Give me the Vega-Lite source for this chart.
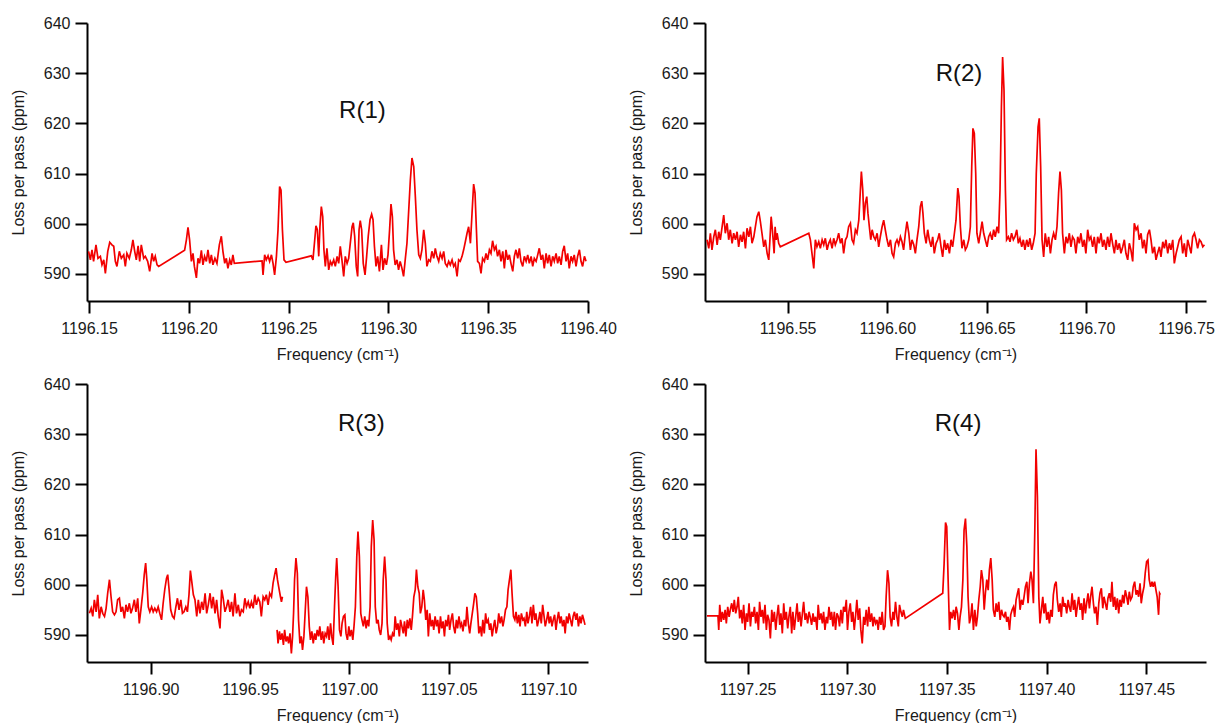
{
"$schema": "https://vega.github.io/schema/vega-lite/v6.json",
"padding": {"top": 15, "left": 10, "right": 0, "bottom": 0},
"bounds": "flush",
"columns": 2,
"spacing": {"row": 83, "column": 117},
"config": {
 "font": "Liberation Sans",
 "view": {"stroke": null},
 "axis": {"grid": false, "domainColor": "#000", "domainWidth": 2, "tickColor": "#000", "tickWidth": 2, "tickSize": 12, "labelFontSize": 16, "labelColor": "#1a1a1a", "titleFontSize": 16, "titleFontWeight": "normal", "titleColor": "#1a1a1a", "labelFlush": false, "labelOverlap": false},
 "axisX": {"labelPadding": 7, "titlePadding": 10},
 "axisY": {"labelPadding": 5, "titlePadding": 17}
},
"datasets": {
"r1": [
{"f":1196.1498,"v":594.5},{"f":1196.1507,"v":592.8},{"f":1196.1515,"v":594.8},{"f":1196.1523,"v":592.5},{"f":1196.1535,"v":595.8},{"f":1196.1545,"v":593.1},{"f":1196.1557,"v":593.5},{"f":1196.1565,"v":591.8},{"f":1196.1574,"v":592.8},{"f":1196.1582,"v":590.1},{"f":1196.1594,"v":594.5},{"f":1196.1604,"v":596.3},{"f":1196.1615,"v":595.8},{"f":1196.1624,"v":595.5},{"f":1196.1632,"v":592.5},{"f":1196.164,"v":591.5},{"f":1196.1652,"v":594.5},{"f":1196.1662,"v":593.1},{"f":1196.1674,"v":593.8},{"f":1196.1682,"v":591.5},{"f":1196.169,"v":594.1},{"f":1196.1702,"v":593.1},{"f":1196.1712,"v":594.8},{"f":1196.172,"v":596.8},{"f":1196.1729,"v":594.5},{"f":1196.1737,"v":592.8},{"f":1196.1746,"v":595.6},{"f":1196.1754,"v":592.5},{"f":1196.1762,"v":595.8},{"f":1196.1774,"v":593.1},{"f":1196.1782,"v":593.5},{"f":1196.1794,"v":592.5},{"f":1196.1804,"v":590.5},{"f":1196.1816,"v":594.1},{"f":1196.1824,"v":592.5},{"f":1196.1832,"v":593.5},{"f":1196.1841,"v":591.8},{"f":1196.1849,"v":591.5},
{"f":1196.1979,"v":594.7},{"f":1196.1988,"v":596.8},{"f":1196.1996,"v":599.3},{"f":1196.2004,"v":596.8},{"f":1196.2013,"v":592.5},{"f":1196.2021,"v":594.1},{"f":1196.2028,"v":591.5},{"f":1196.2038,"v":589.2},{"f":1196.2046,"v":593.1},{"f":1196.2054,"v":592.1},{"f":1196.2063,"v":594.7},{"f":1196.2071,"v":591.8},{"f":1196.2079,"v":593.5},{"f":1196.2088,"v":592.5},{"f":1196.2096,"v":594.8},{"f":1196.2105,"v":592.1},{"f":1196.2113,"v":593.8},{"f":1196.2121,"v":591.8},{"f":1196.2131,"v":593.1},{"f":1196.2141,"v":592.1},{"f":1196.2153,"v":595.8},{"f":1196.2163,"v":597.5},{"f":1196.2171,"v":594.5},{"f":1196.218,"v":592.1},{"f":1196.2188,"v":593.1},{"f":1196.2196,"v":591.1},{"f":1196.2205,"v":592.8},{"f":1196.2213,"v":591.8},{"f":1196.2221,"v":593.8},{"f":1196.2228,"v":592.1},
{"f":1196.2367,"v":592.6},{"f":1196.2372,"v":589.8},{"f":1196.238,"v":593.8},{"f":1196.2388,"v":592.8},{"f":1196.2397,"v":593.6},{"f":1196.2405,"v":592.5},{"f":1196.2414,"v":593.8},{"f":1196.2422,"v":592.1},{"f":1196.243,"v":589.8},{"f":1196.2439,"v":593.5},{"f":1196.2447,"v":598.8},{"f":1196.2455,"v":607.4},{"f":1196.2462,"v":606.7},{"f":1196.2469,"v":598.8},{"f":1196.2477,"v":592.8},{"f":1196.2487,"v":592.3},
{"f":1196.2614,"v":593.6},{"f":1196.2622,"v":592.8},{"f":1196.2631,"v":596.8},{"f":1196.2637,"v":599.6},{"f":1196.2644,"v":598.8},{"f":1196.2651,"v":593.5},{"f":1196.2657,"v":599.4},{"f":1196.2664,"v":603.4},{"f":1196.2671,"v":601.4},{"f":1196.2677,"v":594.8},{"f":1196.2684,"v":591.5},{"f":1196.2692,"v":595.1},{"f":1196.2701,"v":590.8},{"f":1196.2709,"v":592.5},{"f":1196.2717,"v":591.8},{"f":1196.2726,"v":592.8},{"f":1196.2734,"v":591.5},{"f":1196.2743,"v":593.5},{"f":1196.2751,"v":592.1},{"f":1196.2759,"v":595.5},{"f":1196.2768,"v":592.5},{"f":1196.2776,"v":589.5},{"f":1196.2784,"v":593.5},{"f":1196.2793,"v":592.1},{"f":1196.2801,"v":593.1},{"f":1196.2809,"v":596.1},{"f":1196.2818,"v":599.4},{"f":1196.2824,"v":600.2},{"f":1196.2831,"v":597.5},{"f":1196.2839,"v":591.5},{"f":1196.2846,"v":589.5},{"f":1196.2853,"v":598.8},{"f":1196.2859,"v":600.6},{"f":1196.2866,"v":598.8},{"f":1196.2874,"v":592.1},{"f":1196.2883,"v":589.8},{"f":1196.2891,"v":593.5},{"f":1196.2899,"v":597.5},{"f":1196.2908,"v":600.8},{"f":1196.2916,"v":601.9},{"f":1196.2923,"v":600.8},{"f":1196.293,"v":595.5},{"f":1196.2938,"v":591.5},{"f":1196.2946,"v":593.5},{"f":1196.2955,"v":590.5},{"f":1196.2965,"v":595.8},{"f":1196.2973,"v":590.8},{"f":1196.2981,"v":593.1},{"f":1196.299,"v":591.8},{"f":1196.2998,"v":593.8},{"f":1196.3006,"v":598.8},{"f":1196.3013,"v":603.9},{"f":1196.302,"v":601.4},{"f":1196.3026,"v":594.8},{"f":1196.3034,"v":591.8},{"f":1196.3043,"v":592.8},{"f":1196.3051,"v":590.8},{"f":1196.3059,"v":592.5},{"f":1196.3068,"v":591.1},{"f":1196.3076,"v":589.5},{"f":1196.3085,"v":593.1},{"f":1196.3093,"v":596.1},{"f":1196.3101,"v":602.1},{"f":1196.311,"v":608.7},{"f":1196.3118,"v":613.1},{"f":1196.3127,"v":611.4},{"f":1196.3135,"v":605.4},{"f":1196.3143,"v":598.8},{"f":1196.3152,"v":593.8},{"f":1196.316,"v":593.1},{"f":1196.3168,"v":594.8},{"f":1196.3177,"v":598.8},{"f":1196.3185,"v":596.1},{"f":1196.3193,"v":591.5},{"f":1196.3202,"v":592.8},{"f":1196.321,"v":592.5},{"f":1196.3218,"v":594.5},{"f":1196.3227,"v":593.1},{"f":1196.3235,"v":595.1},{"f":1196.3243,"v":593.5},{"f":1196.3252,"v":592.5},{"f":1196.326,"v":594.1},{"f":1196.3269,"v":593.1},{"f":1196.3277,"v":594.5},{"f":1196.3285,"v":592.1},{"f":1196.3294,"v":591.5},{"f":1196.3302,"v":592.5},{"f":1196.331,"v":591.8},{"f":1196.3319,"v":592.8},{"f":1196.3327,"v":591.5},{"f":1196.3335,"v":592.1},{"f":1196.3344,"v":589.5},{"f":1196.3352,"v":592.8},{"f":1196.336,"v":592.5},{"f":1196.3369,"v":593.5},{"f":1196.3377,"v":594.8},{"f":1196.3386,"v":596.5},{"f":1196.3394,"v":598.1},{"f":1196.3402,"v":599.4},{"f":1196.3411,"v":596.1},{"f":1196.3419,"v":602.1},{"f":1196.3427,"v":607.9},{"f":1196.3434,"v":606.1},{"f":1196.3441,"v":598.8},{"f":1196.3447,"v":592.5},{"f":1196.3456,"v":592.1},{"f":1196.3464,"v":590.1},{"f":1196.3472,"v":593.1},{"f":1196.3481,"v":592.5},{"f":1196.3489,"v":594.1},{"f":1196.3497,"v":592.8},{"f":1196.3506,"v":594.8},{"f":1196.3514,"v":594.1},{"f":1196.3522,"v":596.6},{"f":1196.3531,"v":594.8},{"f":1196.3539,"v":595.5},{"f":1196.3547,"v":593.5},{"f":1196.3556,"v":594.8},{"f":1196.3564,"v":592.5},{"f":1196.3573,"v":594.5},{"f":1196.3581,"v":591.1},{"f":1196.3589,"v":594.8},{"f":1196.3598,"v":592.8},{"f":1196.3606,"v":593.8},{"f":1196.3614,"v":592.1},{"f":1196.3623,"v":590.5},{"f":1196.3631,"v":593.5},{"f":1196.3639,"v":594.8},{"f":1196.3648,"v":593.1},{"f":1196.3656,"v":595.1},{"f":1196.3664,"v":592.5},{"f":1196.3673,"v":591.5},{"f":1196.3681,"v":593.5},{"f":1196.369,"v":592.5},{"f":1196.3698,"v":593.8},{"f":1196.3706,"v":592.1},{"f":1196.3715,"v":593.5},{"f":1196.3723,"v":591.5},{"f":1196.3731,"v":593.1},{"f":1196.374,"v":592.5},{"f":1196.3748,"v":593.8},{"f":1196.3756,"v":595.1},{"f":1196.3765,"v":592.8},{"f":1196.3773,"v":593.8},{"f":1196.3781,"v":591.1},{"f":1196.379,"v":594.1},{"f":1196.3798,"v":592.1},{"f":1196.3806,"v":593.8},{"f":1196.3815,"v":591.5},{"f":1196.3823,"v":593.5},{"f":1196.3831,"v":592.5},{"f":1196.384,"v":594.1},{"f":1196.3848,"v":592.1},{"f":1196.3856,"v":593.5},{"f":1196.3865,"v":591.8},{"f":1196.3873,"v":594.5},{"f":1196.3881,"v":595.6},{"f":1196.389,"v":592.5},{"f":1196.3898,"v":594.1},{"f":1196.3906,"v":591.1},{"f":1196.3915,"v":593.5},{"f":1196.3923,"v":592.5},{"f":1196.3931,"v":593.8},{"f":1196.394,"v":591.5},{"f":1196.3948,"v":593.5},{"f":1196.3957,"v":594.8},{"f":1196.3965,"v":592.5},{"f":1196.3973,"v":591.5},{"f":1196.3982,"v":593.5},{"f":1196.399,"v":592.5}
],
"r2": [
{"f":1196.5095,"v":596.8},{"f":1196.5104,"v":595.1},{"f":1196.5112,"v":598.1},{"f":1196.512,"v":594.8},{"f":1196.5129,"v":597.4},{"f":1196.5137,"v":598.8},{"f":1196.5146,"v":595.8},{"f":1196.5154,"v":598.4},{"f":1196.5162,"v":596.8},{"f":1196.5171,"v":599.4},{"f":1196.5179,"v":601.7},{"f":1196.5187,"v":598.1},{"f":1196.5196,"v":600.1},{"f":1196.5204,"v":596.8},{"f":1196.5212,"v":598.8},{"f":1196.5221,"v":596.1},{"f":1196.5229,"v":598.1},{"f":1196.5238,"v":596.8},{"f":1196.5246,"v":598.4},{"f":1196.5254,"v":595.4},{"f":1196.5263,"v":597.8},{"f":1196.5271,"v":596.4},{"f":1196.5279,"v":598.4},{"f":1196.5288,"v":595.1},{"f":1196.5296,"v":599.1},{"f":1196.5305,"v":597.4},{"f":1196.5313,"v":599.4},{"f":1196.5321,"v":596.1},{"f":1196.533,"v":597.4},{"f":1196.5338,"v":599.4},{"f":1196.5346,"v":601.4},{"f":1196.5355,"v":602.4},{"f":1196.5363,"v":600.4},{"f":1196.5371,"v":598.1},{"f":1196.538,"v":595.4},{"f":1196.5388,"v":596.8},{"f":1196.5397,"v":594.1},{"f":1196.5405,"v":592.8},{"f":1196.541,"v":596.1},{"f":1196.5417,"v":601.4},{"f":1196.5422,"v":599.4},{"f":1196.5427,"v":596.8},{"f":1196.5432,"v":594.1},{"f":1196.5437,"v":599.4},{"f":1196.5442,"v":596.8},{"f":1196.5447,"v":598.1},{"f":1196.5455,"v":596.1},{"f":1196.5463,"v":595.4},
{"f":1196.5606,"v":598.1},{"f":1196.5614,"v":596.8},{"f":1196.5622,"v":594.1},{"f":1196.5631,"v":591.1},{"f":1196.5639,"v":596.8},{"f":1196.5647,"v":595.4},{"f":1196.5656,"v":596.4},{"f":1196.5664,"v":595.1},{"f":1196.5673,"v":596.8},{"f":1196.5681,"v":595.8},{"f":1196.5689,"v":597.1},{"f":1196.5698,"v":594.8},{"f":1196.5706,"v":596.1},{"f":1196.5714,"v":596.8},{"f":1196.5723,"v":595.1},{"f":1196.5731,"v":597.1},{"f":1196.5739,"v":595.8},{"f":1196.5748,"v":596.8},{"f":1196.5756,"v":598.1},{"f":1196.5765,"v":596.1},{"f":1196.5773,"v":597.1},{"f":1196.5781,"v":594.1},{"f":1196.579,"v":596.8},{"f":1196.5798,"v":597.4},{"f":1196.5806,"v":599.4},{"f":1196.5815,"v":600.1},{"f":1196.5823,"v":596.8},{"f":1196.5831,"v":596.1},{"f":1196.584,"v":598.8},{"f":1196.5848,"v":598.1},{"f":1196.5857,"v":600.7},{"f":1196.5865,"v":606.7},{"f":1196.587,"v":610.4},{"f":1196.5877,"v":606.7},{"f":1196.5883,"v":600.7},{"f":1196.589,"v":604.1},{"f":1196.5897,"v":605.4},{"f":1196.5903,"v":602.1},{"f":1196.591,"v":599.4},{"f":1196.5917,"v":596.8},{"f":1196.5924,"v":598.8},{"f":1196.5932,"v":597.4},{"f":1196.594,"v":596.8},{"f":1196.5949,"v":598.1},{"f":1196.5957,"v":595.4},{"f":1196.5965,"v":597.4},{"f":1196.5974,"v":599.4},{"f":1196.5982,"v":600.7},{"f":1196.599,"v":598.8},{"f":1196.5999,"v":596.8},{"f":1196.6007,"v":595.4},{"f":1196.6016,"v":596.8},{"f":1196.6024,"v":594.1},{"f":1196.6032,"v":593.4},{"f":1196.6041,"v":596.1},{"f":1196.6049,"v":596.8},{"f":1196.6057,"v":595.8},{"f":1196.6066,"v":597.4},{"f":1196.6074,"v":596.4},{"f":1196.6082,"v":594.8},{"f":1196.6091,"v":598.1},{"f":1196.6099,"v":600.4},{"f":1196.6108,"v":598.1},{"f":1196.6116,"v":594.8},{"f":1196.6124,"v":596.8},{"f":1196.6133,"v":595.8},{"f":1196.6141,"v":594.1},{"f":1196.6149,"v":596.8},{"f":1196.6158,"v":599.4},{"f":1196.6166,"v":603.4},{"f":1196.6173,"v":604.5},{"f":1196.6179,"v":602.1},{"f":1196.6186,"v":598.1},{"f":1196.6195,"v":596.1},{"f":1196.6203,"v":598.8},{"f":1196.6211,"v":596.8},{"f":1196.622,"v":595.4},{"f":1196.6228,"v":597.4},{"f":1196.6236,"v":594.1},{"f":1196.6245,"v":596.1},{"f":1196.6253,"v":596.8},{"f":1196.6261,"v":598.1},{"f":1196.627,"v":595.4},{"f":1196.6278,"v":593.4},{"f":1196.6287,"v":596.8},{"f":1196.6295,"v":594.8},{"f":1196.6303,"v":596.1},{"f":1196.6312,"v":594.1},{"f":1196.632,"v":596.8},{"f":1196.6328,"v":595.4},{"f":1196.6337,"v":598.1},{"f":1196.6345,"v":600.7},{"f":1196.6354,"v":607.1},{"f":1196.636,"v":605.4},{"f":1196.6367,"v":599.4},{"f":1196.6375,"v":595.1},{"f":1196.6384,"v":596.8},{"f":1196.6392,"v":594.8},{"f":1196.64,"v":595.4},{"f":1196.6409,"v":596.8},{"f":1196.6417,"v":599.4},{"f":1196.6424,"v":611.4},{"f":1196.643,"v":619.0},{"f":1196.6437,"v":618.0},{"f":1196.6444,"v":610.0},{"f":1196.645,"v":598.1},{"f":1196.6459,"v":596.1},{"f":1196.6467,"v":598.1},{"f":1196.6476,"v":600.4},{"f":1196.6484,"v":598.1},{"f":1196.6492,"v":596.8},{"f":1196.6501,"v":595.4},{"f":1196.6509,"v":597.4},{"f":1196.6517,"v":598.1},{"f":1196.6526,"v":596.8},{"f":1196.6534,"v":598.8},{"f":1196.6542,"v":597.4},{"f":1196.6551,"v":599.4},{"f":1196.6559,"v":598.1},{"f":1196.6566,"v":606.7},{"f":1196.6573,"v":623.3},{"f":1196.6579,"v":633.2},{"f":1196.6586,"v":626.6},{"f":1196.6593,"v":606.7},{"f":1196.6599,"v":596.8},{"f":1196.6608,"v":597.4},{"f":1196.6616,"v":596.4},{"f":1196.6624,"v":598.1},{"f":1196.6633,"v":596.8},{"f":1196.6641,"v":597.4},{"f":1196.665,"v":598.8},{"f":1196.6658,"v":596.1},{"f":1196.6666,"v":597.1},{"f":1196.6675,"v":595.4},{"f":1196.6683,"v":596.8},{"f":1196.6691,"v":594.8},{"f":1196.67,"v":596.8},{"f":1196.6708,"v":595.4},{"f":1196.6716,"v":597.1},{"f":1196.6725,"v":594.8},{"f":1196.6733,"v":596.1},{"f":1196.6742,"v":598.1},{"f":1196.6748,"v":610.0},{"f":1196.6757,"v":619.3},{"f":1196.6763,"v":621.0},{"f":1196.677,"v":611.4},{"f":1196.6777,"v":596.8},{"f":1196.6785,"v":593.4},{"f":1196.6793,"v":598.1},{"f":1196.6802,"v":595.4},{"f":1196.681,"v":597.4},{"f":1196.6819,"v":594.1},{"f":1196.6827,"v":596.8},{"f":1196.6835,"v":598.1},{"f":1196.6844,"v":596.8},{"f":1196.6852,"v":599.4},{"f":1196.686,"v":606.1},{"f":1196.6867,"v":610.4},{"f":1196.6874,"v":606.7},{"f":1196.688,"v":598.1},{"f":1196.6889,"v":594.1},{"f":1196.6897,"v":597.4},{"f":1196.6905,"v":596.1},{"f":1196.6914,"v":598.1},{"f":1196.6922,"v":595.4},{"f":1196.693,"v":597.4},{"f":1196.6939,"v":596.8},{"f":1196.6947,"v":594.1},{"f":1196.6956,"v":597.4},{"f":1196.6964,"v":596.1},{"f":1196.6972,"v":598.1},{"f":1196.6981,"v":595.4},{"f":1196.6989,"v":596.8},{"f":1196.6997,"v":594.1},{"f":1196.7006,"v":598.8},{"f":1196.7014,"v":596.8},{"f":1196.7022,"v":597.4},{"f":1196.7031,"v":595.4},{"f":1196.7039,"v":597.4},{"f":1196.7048,"v":594.1},{"f":1196.7056,"v":597.4},{"f":1196.7064,"v":596.1},{"f":1196.7073,"v":598.1},{"f":1196.7081,"v":595.4},{"f":1196.7089,"v":596.8},{"f":1196.7098,"v":594.8},{"f":1196.7106,"v":597.4},{"f":1196.7115,"v":595.4},{"f":1196.7123,"v":598.1},{"f":1196.7131,"v":596.1},{"f":1196.714,"v":594.1},{"f":1196.7148,"v":596.8},{"f":1196.7156,"v":594.8},{"f":1196.7165,"v":596.1},{"f":1196.7173,"v":594.1},{"f":1196.7182,"v":595.4},{"f":1196.719,"v":596.8},{"f":1196.7198,"v":594.1},{"f":1196.7207,"v":592.8},{"f":1196.7215,"v":596.1},{"f":1196.7223,"v":594.8},{"f":1196.7232,"v":592.5},{"f":1196.724,"v":600.1},{"f":1196.7249,"v":598.8},{"f":1196.7257,"v":599.4},{"f":1196.7265,"v":596.8},{"f":1196.7274,"v":598.1},{"f":1196.7282,"v":595.1},{"f":1196.729,"v":596.8},{"f":1196.7299,"v":594.1},{"f":1196.7307,"v":597.8},{"f":1196.7316,"v":598.8},{"f":1196.7324,"v":596.8},{"f":1196.7332,"v":594.1},{"f":1196.7341,"v":595.4},{"f":1196.7349,"v":592.8},{"f":1196.7357,"v":594.1},{"f":1196.7366,"v":595.4},{"f":1196.7374,"v":593.4},{"f":1196.7383,"v":596.4},{"f":1196.7391,"v":595.1},{"f":1196.7399,"v":596.8},{"f":1196.7408,"v":594.1},{"f":1196.7416,"v":596.1},{"f":1196.7424,"v":594.8},{"f":1196.7433,"v":596.8},{"f":1196.7441,"v":592.1},{"f":1196.745,"v":594.1},{"f":1196.7458,"v":595.4},{"f":1196.7466,"v":596.8},{"f":1196.7475,"v":597.4},{"f":1196.7483,"v":594.1},{"f":1196.7491,"v":596.1},{"f":1196.75,"v":593.4},{"f":1196.7508,"v":596.8},{"f":1196.7517,"v":595.4},{"f":1196.7525,"v":594.1},{"f":1196.7533,"v":597.4},{"f":1196.7542,"v":598.1},{"f":1196.755,"v":596.8},{"f":1196.7558,"v":595.1},{"f":1196.7567,"v":596.8},{"f":1196.7575,"v":596.4},{"f":1196.7584,"v":595.4},{"f":1196.7592,"v":595.8}
],
"r3": [
{"s":1,"f":1196.8692,"v":594.3},{"s":1,"f":1196.8701,"v":595.3},{"s":1,"f":1196.8709,"v":593.7},{"s":1,"f":1196.8717,"v":597.0},{"s":1,"f":1196.8726,"v":594.6},{"s":1,"f":1196.8734,"v":598.0},{"s":1,"f":1196.8742,"v":593.3},{"s":1,"f":1196.8751,"v":595.6},{"s":1,"f":1196.8759,"v":594.3},{"s":1,"f":1196.8768,"v":593.7},{"s":1,"f":1196.8776,"v":595.3},{"s":1,"f":1196.8784,"v":598.3},{"s":1,"f":1196.8793,"v":601.0},{"s":1,"f":1196.8801,"v":597.6},{"s":1,"f":1196.8809,"v":594.6},{"s":1,"f":1196.8818,"v":594.0},{"s":1,"f":1196.8826,"v":594.6},{"s":1,"f":1196.8834,"v":597.0},{"s":1,"f":1196.8843,"v":597.3},{"s":1,"f":1196.8851,"v":594.6},{"s":1,"f":1196.8859,"v":595.6},{"s":1,"f":1196.8868,"v":593.3},{"s":1,"f":1196.8876,"v":596.0},{"s":1,"f":1196.8884,"v":594.6},{"s":1,"f":1196.8893,"v":596.3},{"s":1,"f":1196.8901,"v":594.3},{"s":1,"f":1196.8909,"v":595.3},{"s":1,"f":1196.8918,"v":597.0},{"s":1,"f":1196.8926,"v":594.6},{"s":1,"f":1196.8935,"v":597.3},{"s":1,"f":1196.8943,"v":592.3},{"s":1,"f":1196.8951,"v":595.0},{"s":1,"f":1196.896,"v":598.3},{"s":1,"f":1196.8968,"v":602.0},{"s":1,"f":1196.8975,"v":604.3},{"s":1,"f":1196.8981,"v":601.0},{"s":1,"f":1196.8988,"v":595.6},{"s":1,"f":1196.8996,"v":594.6},{"s":1,"f":1196.9005,"v":595.6},{"s":1,"f":1196.9013,"v":594.6},{"s":1,"f":1196.9021,"v":595.3},{"s":1,"f":1196.903,"v":594.6},{"s":1,"f":1196.9038,"v":595.6},{"s":1,"f":1196.9046,"v":594.3},{"s":1,"f":1196.9055,"v":593.0},{"s":1,"f":1196.9063,"v":596.3},{"s":1,"f":1196.9071,"v":599.0},{"s":1,"f":1196.908,"v":601.3},{"s":1,"f":1196.9086,"v":602.0},{"s":1,"f":1196.9093,"v":599.0},{"s":1,"f":1196.9101,"v":595.0},{"s":1,"f":1196.911,"v":593.7},{"s":1,"f":1196.9118,"v":593.3},{"s":1,"f":1196.9127,"v":595.6},{"s":1,"f":1196.9135,"v":597.3},{"s":1,"f":1196.9143,"v":595.0},{"s":1,"f":1196.9152,"v":597.0},{"s":1,"f":1196.916,"v":594.3},{"s":1,"f":1196.9168,"v":594.6},{"s":1,"f":1196.9177,"v":595.6},{"s":1,"f":1196.9185,"v":594.6},{"s":1,"f":1196.9193,"v":598.0},{"s":1,"f":1196.92,"v":602.8},{"s":1,"f":1196.9207,"v":600.6},{"s":1,"f":1196.9215,"v":598.0},{"s":1,"f":1196.9223,"v":597.0},{"s":1,"f":1196.9232,"v":593.7},{"s":1,"f":1196.924,"v":597.0},{"s":1,"f":1196.9248,"v":594.3},{"s":1,"f":1196.9257,"v":596.6},{"s":1,"f":1196.9265,"v":595.0},{"s":1,"f":1196.9274,"v":598.3},{"s":1,"f":1196.9282,"v":594.3},{"s":1,"f":1196.929,"v":596.0},{"s":1,"f":1196.9299,"v":598.3},{"s":1,"f":1196.9307,"v":595.3},{"s":1,"f":1196.9315,"v":597.6},{"s":1,"f":1196.9324,"v":594.3},{"s":1,"f":1196.9332,"v":597.0},{"s":1,"f":1196.934,"v":593.7},{"s":1,"f":1196.9349,"v":591.3},{"s":1,"f":1196.9357,"v":599.0},{"s":1,"f":1196.9365,"v":597.3},{"s":1,"f":1196.9374,"v":594.6},{"s":1,"f":1196.9382,"v":595.6},{"s":1,"f":1196.939,"v":597.0},{"s":1,"f":1196.9399,"v":594.6},{"s":1,"f":1196.9407,"v":596.6},{"s":1,"f":1196.9415,"v":593.7},{"s":1,"f":1196.9424,"v":598.3},{"s":1,"f":1196.9432,"v":594.3},{"s":1,"f":1196.9441,"v":596.0},{"s":1,"f":1196.9449,"v":593.7},{"s":1,"f":1196.9457,"v":595.0},{"s":1,"f":1196.9466,"v":594.6},{"s":1,"f":1196.9474,"v":597.3},{"s":1,"f":1196.9482,"v":595.6},{"s":1,"f":1196.9491,"v":596.6},{"s":1,"f":1196.9499,"v":595.3},{"s":1,"f":1196.9507,"v":596.6},{"s":1,"f":1196.9516,"v":595.3},{"s":1,"f":1196.9524,"v":598.0},{"s":1,"f":1196.9532,"v":596.0},{"s":1,"f":1196.9541,"v":597.3},{"s":1,"f":1196.9549,"v":596.6},{"s":1,"f":1196.9557,"v":593.7},{"s":1,"f":1196.9566,"v":597.6},{"s":1,"f":1196.9574,"v":597.0},{"s":1,"f":1196.9582,"v":598.0},{"s":1,"f":1196.9591,"v":596.0},{"s":1,"f":1196.9599,"v":598.3},{"s":1,"f":1196.9608,"v":597.6},{"s":1,"f":1196.9616,"v":600.3},{"s":1,"f":1196.9624,"v":602.0},{"s":1,"f":1196.9631,"v":603.3},{"s":1,"f":1196.9638,"v":601.0},{"s":1,"f":1196.9644,"v":599.6},{"s":1,"f":1196.9653,"v":597.6},{"s":1,"f":1196.9658,"v":596.6},{"s":1,"f":1196.9663,"v":597.6},
{"s":2,"f":1196.9636,"v":591.0},{"s":2,"f":1196.9641,"v":588.3},{"s":2,"f":1196.9648,"v":590.7},{"s":2,"f":1196.9654,"v":589.0},{"s":2,"f":1196.9661,"v":590.3},{"s":2,"f":1196.9668,"v":588.0},{"s":2,"f":1196.9674,"v":591.0},{"s":2,"f":1196.9681,"v":588.7},{"s":2,"f":1196.9688,"v":589.7},{"s":2,"f":1196.9694,"v":588.3},{"s":2,"f":1196.9701,"v":590.3},{"s":2,"f":1196.9708,"v":586.3},{"s":2,"f":1196.9714,"v":589.7},{"s":2,"f":1196.9719,"v":594.3},{"s":2,"f":1196.9724,"v":601.0},{"s":2,"f":1196.9731,"v":605.3},{"s":2,"f":1196.9738,"v":602.3},{"s":2,"f":1196.9744,"v":593.0},{"s":2,"f":1196.9751,"v":588.3},{"s":2,"f":1196.9758,"v":589.7},{"s":2,"f":1196.9764,"v":587.0},{"s":2,"f":1196.9771,"v":589.7},{"s":2,"f":1196.9778,"v":595.0},{"s":2,"f":1196.9784,"v":599.6},{"s":2,"f":1196.9791,"v":597.6},{"s":2,"f":1196.9798,"v":591.7},{"s":2,"f":1196.9804,"v":589.0},{"s":2,"f":1196.9811,"v":590.7},{"s":2,"f":1196.9818,"v":588.3},{"s":2,"f":1196.9825,"v":590.3},{"s":2,"f":1196.9831,"v":589.0},{"s":2,"f":1196.9838,"v":591.0},{"s":2,"f":1196.9845,"v":589.7},{"s":2,"f":1196.9851,"v":591.7},{"s":2,"f":1196.9858,"v":589.0},{"s":2,"f":1196.9865,"v":590.7},{"s":2,"f":1196.9871,"v":588.3},{"s":2,"f":1196.9878,"v":590.3},{"s":2,"f":1196.9885,"v":589.7},{"s":2,"f":1196.9891,"v":591.7},{"s":2,"f":1196.9898,"v":589.0},{"s":2,"f":1196.9905,"v":592.3},{"s":2,"f":1196.9911,"v":589.7},{"s":2,"f":1196.9918,"v":588.0},{"s":2,"f":1196.9925,"v":595.6},{"s":2,"f":1196.9931,"v":601.6},{"s":2,"f":1196.9936,"v":605.3},{"s":2,"f":1196.9943,"v":599.6},{"s":2,"f":1196.995,"v":591.0},{"s":2,"f":1196.9957,"v":589.7},{"s":2,"f":1196.9963,"v":592.3},{"s":2,"f":1196.997,"v":593.7},{"s":2,"f":1196.9977,"v":594.0},{"s":2,"f":1196.9983,"v":590.3},{"s":2,"f":1196.999,"v":589.0},{"s":2,"f":1196.9997,"v":591.7},{"s":2,"f":1197.0003,"v":589.7},{"s":2,"f":1197.001,"v":591.0},{"s":2,"f":1197.0017,"v":589.0},{"s":2,"f":1197.0023,"v":591.7},{"s":2,"f":1197.003,"v":595.6},{"s":2,"f":1197.0037,"v":605.6},{"s":2,"f":1197.0043,"v":610.6},{"s":2,"f":1197.005,"v":605.6},{"s":2,"f":1197.0057,"v":594.3},{"s":2,"f":1197.0063,"v":593.0},{"s":2,"f":1197.007,"v":591.7},{"s":2,"f":1197.0077,"v":593.7},{"s":2,"f":1197.0084,"v":591.3},{"s":2,"f":1197.009,"v":593.0},{"s":2,"f":1197.0097,"v":591.7},{"s":2,"f":1197.0104,"v":595.6},{"s":2,"f":1197.011,"v":607.6},{"s":2,"f":1197.0117,"v":612.9},{"s":2,"f":1197.0124,"v":608.9},{"s":2,"f":1197.013,"v":595.6},{"s":2,"f":1197.0137,"v":592.3},{"s":2,"f":1197.0144,"v":593.0},{"s":2,"f":1197.015,"v":591.0},{"s":2,"f":1197.0157,"v":590.0},{"s":2,"f":1197.0164,"v":592.3},{"s":2,"f":1197.017,"v":601.0},{"s":2,"f":1197.0177,"v":605.6},{"s":2,"f":1197.0184,"v":601.0},{"s":2,"f":1197.019,"v":592.3},{"s":2,"f":1197.0197,"v":589.0},{"s":2,"f":1197.0204,"v":589.7},{"s":2,"f":1197.021,"v":589.0},{"s":2,"f":1197.0217,"v":590.3},{"s":2,"f":1197.0224,"v":589.7},{"s":2,"f":1197.023,"v":593.7},{"s":2,"f":1197.0237,"v":591.0},{"s":2,"f":1197.0244,"v":592.3},{"s":2,"f":1197.0251,"v":589.7},{"s":2,"f":1197.0257,"v":593.0},{"s":2,"f":1197.0264,"v":591.7},{"s":2,"f":1197.0271,"v":590.3},{"s":2,"f":1197.0277,"v":592.7},{"s":2,"f":1197.0284,"v":589.7},{"s":2,"f":1197.0291,"v":593.0},{"s":2,"f":1197.0297,"v":591.3},{"s":2,"f":1197.0304,"v":593.3},{"s":2,"f":1197.0311,"v":591.0},{"s":2,"f":1197.0317,"v":593.7},{"s":2,"f":1197.0324,"v":597.6},{"s":2,"f":1197.0331,"v":599.0},{"s":2,"f":1197.0337,"v":603.0},{"s":2,"f":1197.0344,"v":599.6},{"s":2,"f":1197.0351,"v":598.3},{"s":2,"f":1197.0357,"v":594.3},{"s":2,"f":1197.0364,"v":595.6},{"s":2,"f":1197.0371,"v":599.0},{"s":2,"f":1197.0377,"v":597.0},{"s":2,"f":1197.0384,"v":593.0},{"s":2,"f":1197.0391,"v":595.0},{"s":2,"f":1197.0397,"v":589.7},{"s":2,"f":1197.0404,"v":594.3},{"s":2,"f":1197.0411,"v":591.7},{"s":2,"f":1197.0418,"v":593.0},{"s":2,"f":1197.0424,"v":591.0},{"s":2,"f":1197.0431,"v":593.7},{"s":2,"f":1197.0438,"v":591.7},{"s":2,"f":1197.0444,"v":593.0},{"s":2,"f":1197.0451,"v":590.3},{"s":2,"f":1197.0458,"v":593.7},{"s":2,"f":1197.0464,"v":591.3},{"s":2,"f":1197.0471,"v":592.7},{"s":2,"f":1197.0478,"v":589.7},{"s":2,"f":1197.0484,"v":593.0},{"s":2,"f":1197.0491,"v":591.7},{"s":2,"f":1197.0498,"v":594.0},{"s":2,"f":1197.0504,"v":591.0},{"s":2,"f":1197.0511,"v":593.0},{"s":2,"f":1197.0518,"v":594.3},{"s":2,"f":1197.0524,"v":591.7},{"s":2,"f":1197.0531,"v":590.3},{"s":2,"f":1197.0538,"v":593.0},{"s":2,"f":1197.0544,"v":591.3},{"s":2,"f":1197.0551,"v":593.7},{"s":2,"f":1197.0558,"v":591.7},{"s":2,"f":1197.0564,"v":592.3},{"s":2,"f":1197.0571,"v":590.7},{"s":2,"f":1197.0578,"v":593.0},{"s":2,"f":1197.0585,"v":591.7},{"s":2,"f":1197.0591,"v":595.6},{"s":2,"f":1197.0598,"v":592.3},{"s":2,"f":1197.0605,"v":590.3},{"s":2,"f":1197.0611,"v":592.3},{"s":2,"f":1197.0618,"v":594.3},{"s":2,"f":1197.0625,"v":596.3},{"s":2,"f":1197.0631,"v":598.3},{"s":2,"f":1197.0638,"v":597.6},{"s":2,"f":1197.0645,"v":594.3},{"s":2,"f":1197.0651,"v":590.3},{"s":2,"f":1197.0658,"v":591.7},{"s":2,"f":1197.0665,"v":589.7},{"s":2,"f":1197.0671,"v":593.0},{"s":2,"f":1197.0678,"v":590.3},{"s":2,"f":1197.0685,"v":594.3},{"s":2,"f":1197.0691,"v":592.3},{"s":2,"f":1197.0698,"v":593.0},{"s":2,"f":1197.0705,"v":591.0},{"s":2,"f":1197.0711,"v":592.3},{"s":2,"f":1197.0718,"v":589.7},{"s":2,"f":1197.0725,"v":591.7},{"s":2,"f":1197.0731,"v":593.0},{"s":2,"f":1197.0738,"v":590.3},{"s":2,"f":1197.0745,"v":591.7},{"s":2,"f":1197.0751,"v":594.3},{"s":2,"f":1197.0758,"v":592.3},{"s":2,"f":1197.0765,"v":593.7},{"s":2,"f":1197.0772,"v":591.7},{"s":2,"f":1197.0778,"v":593.0},{"s":2,"f":1197.0785,"v":595.0},{"s":2,"f":1197.0792,"v":595.6},{"s":2,"f":1197.0798,"v":599.0},{"s":2,"f":1197.0805,"v":601.0},{"s":2,"f":1197.0812,"v":603.0},{"s":2,"f":1197.0818,"v":598.3},{"s":2,"f":1197.0825,"v":593.7},{"s":2,"f":1197.0832,"v":593.0},{"s":2,"f":1197.0838,"v":594.6},{"s":2,"f":1197.0845,"v":592.3},{"s":2,"f":1197.0852,"v":594.0},{"s":2,"f":1197.0858,"v":591.7},{"s":2,"f":1197.0865,"v":594.3},{"s":2,"f":1197.0872,"v":593.0},{"s":2,"f":1197.0878,"v":593.3},{"s":2,"f":1197.0885,"v":591.7},{"s":2,"f":1197.0892,"v":594.6},{"s":2,"f":1197.0898,"v":592.3},{"s":2,"f":1197.0905,"v":593.7},{"s":2,"f":1197.0912,"v":595.6},{"s":2,"f":1197.0918,"v":592.3},{"s":2,"f":1197.0925,"v":596.0},{"s":2,"f":1197.0932,"v":593.0},{"s":2,"f":1197.0938,"v":594.3},{"s":2,"f":1197.0945,"v":591.7},{"s":2,"f":1197.0952,"v":593.0},{"s":2,"f":1197.0958,"v":594.6},{"s":2,"f":1197.0965,"v":592.3},{"s":2,"f":1197.0972,"v":596.0},{"s":2,"f":1197.0979,"v":593.7},{"s":2,"f":1197.0985,"v":591.7},{"s":2,"f":1197.0992,"v":593.0},{"s":2,"f":1197.0999,"v":594.6},{"s":2,"f":1197.1005,"v":592.3},{"s":2,"f":1197.1012,"v":593.7},{"s":2,"f":1197.1019,"v":591.7},{"s":2,"f":1197.1025,"v":593.0},{"s":2,"f":1197.1032,"v":594.0},{"s":2,"f":1197.1039,"v":591.0},{"s":2,"f":1197.1045,"v":593.0},{"s":2,"f":1197.1052,"v":594.6},{"s":2,"f":1197.1059,"v":592.3},{"s":2,"f":1197.1065,"v":593.7},{"s":2,"f":1197.1072,"v":591.7},{"s":2,"f":1197.1079,"v":593.0},{"s":2,"f":1197.1085,"v":590.3},{"s":2,"f":1197.1092,"v":593.7},{"s":2,"f":1197.1099,"v":592.3},{"s":2,"f":1197.1105,"v":594.3},{"s":2,"f":1197.1112,"v":593.0},{"s":2,"f":1197.1119,"v":591.7},{"s":2,"f":1197.1125,"v":593.7},{"s":2,"f":1197.1132,"v":594.6},{"s":2,"f":1197.1139,"v":593.0},{"s":2,"f":1197.1145,"v":594.3},{"s":2,"f":1197.1152,"v":591.7},{"s":2,"f":1197.1159,"v":593.7},{"s":2,"f":1197.1165,"v":592.3},{"s":2,"f":1197.1172,"v":594.0},{"s":2,"f":1197.1179,"v":593.0},{"s":2,"f":1197.1185,"v":592.0}
],
"r4": [
{"f":1197.2296,"v":593.8},{"f":1197.2351,"v":593.8},{"f":1197.2355,"v":591.0},{"f":1197.236,"v":596.0},{"f":1197.2367,"v":592.6},{"f":1197.2373,"v":594.6},{"f":1197.238,"v":593.0},{"f":1197.2387,"v":595.0},{"f":1197.2393,"v":592.3},{"f":1197.24,"v":595.6},{"f":1197.2407,"v":593.6},{"f":1197.2413,"v":595.0},{"f":1197.242,"v":596.3},{"f":1197.2427,"v":594.6},{"f":1197.2433,"v":597.0},{"f":1197.244,"v":594.3},{"f":1197.2447,"v":595.6},{"f":1197.2453,"v":597.6},{"f":1197.246,"v":593.3},{"f":1197.2467,"v":595.0},{"f":1197.2473,"v":592.3},{"f":1197.248,"v":596.0},{"f":1197.2487,"v":591.0},{"f":1197.2494,"v":594.3},{"f":1197.25,"v":592.6},{"f":1197.2507,"v":596.3},{"f":1197.2514,"v":591.7},{"f":1197.252,"v":594.6},{"f":1197.2527,"v":593.6},{"f":1197.2534,"v":595.6},{"f":1197.254,"v":592.3},{"f":1197.2547,"v":594.6},{"f":1197.2554,"v":591.0},{"f":1197.256,"v":596.6},{"f":1197.2567,"v":593.6},{"f":1197.2574,"v":595.0},{"f":1197.258,"v":592.3},{"f":1197.2587,"v":596.0},{"f":1197.2594,"v":591.0},{"f":1197.26,"v":594.0},{"f":1197.2607,"v":593.0},{"f":1197.2614,"v":589.3},{"f":1197.2621,"v":595.0},{"f":1197.2627,"v":592.6},{"f":1197.2634,"v":594.6},{"f":1197.2641,"v":591.0},{"f":1197.2647,"v":593.6},{"f":1197.2654,"v":596.0},{"f":1197.2661,"v":592.0},{"f":1197.2667,"v":594.3},{"f":1197.2674,"v":590.3},{"f":1197.2681,"v":596.3},{"f":1197.2687,"v":593.0},{"f":1197.2694,"v":594.6},{"f":1197.2701,"v":591.3},{"f":1197.2707,"v":593.6},{"f":1197.2714,"v":595.6},{"f":1197.2721,"v":590.3},{"f":1197.2727,"v":594.6},{"f":1197.2734,"v":591.0},{"f":1197.2741,"v":593.6},{"f":1197.2748,"v":596.3},{"f":1197.2754,"v":592.6},{"f":1197.2761,"v":594.6},{"f":1197.2768,"v":591.7},{"f":1197.2774,"v":594.0},{"f":1197.2781,"v":596.6},{"f":1197.2788,"v":593.0},{"f":1197.2794,"v":594.3},{"f":1197.2801,"v":592.3},{"f":1197.2808,"v":594.6},{"f":1197.2814,"v":593.6},{"f":1197.2821,"v":592.0},{"f":1197.2828,"v":594.3},{"f":1197.2834,"v":592.6},{"f":1197.2841,"v":593.6},{"f":1197.2848,"v":591.0},{"f":1197.2854,"v":596.0},{"f":1197.2861,"v":593.0},{"f":1197.2868,"v":594.3},{"f":1197.2875,"v":592.3},{"f":1197.2881,"v":594.6},{"f":1197.2888,"v":591.0},{"f":1197.2895,"v":593.6},{"f":1197.2901,"v":592.3},{"f":1197.2908,"v":595.6},{"f":1197.2915,"v":593.0},{"f":1197.2921,"v":594.6},{"f":1197.2928,"v":591.7},{"f":1197.2935,"v":594.6},{"f":1197.2941,"v":591.0},{"f":1197.2948,"v":594.3},{"f":1197.2955,"v":593.6},{"f":1197.2961,"v":591.7},{"f":1197.2968,"v":595.0},{"f":1197.2975,"v":592.3},{"f":1197.2981,"v":595.6},{"f":1197.2988,"v":594.6},{"f":1197.2995,"v":597.0},{"f":1197.3001,"v":591.0},{"f":1197.3008,"v":594.6},{"f":1197.3015,"v":596.3},{"f":1197.3022,"v":592.6},{"f":1197.3028,"v":594.6},{"f":1197.3035,"v":591.0},{"f":1197.3042,"v":594.0},{"f":1197.3048,"v":597.0},{"f":1197.3055,"v":593.0},{"f":1197.3062,"v":595.3},{"f":1197.3068,"v":591.0},{"f":1197.3075,"v":588.3},{"f":1197.3082,"v":593.6},{"f":1197.3088,"v":592.0},{"f":1197.3095,"v":595.0},{"f":1197.3102,"v":591.7},{"f":1197.3108,"v":595.6},{"f":1197.3115,"v":592.6},{"f":1197.3122,"v":594.3},{"f":1197.3129,"v":591.7},{"f":1197.3135,"v":593.6},{"f":1197.3142,"v":592.3},{"f":1197.3149,"v":593.0},{"f":1197.3155,"v":591.0},{"f":1197.3162,"v":593.6},{"f":1197.3169,"v":592.0},{"f":1197.3175,"v":594.6},{"f":1197.3182,"v":591.0},{"f":1197.3189,"v":591.7},{"f":1197.3195,"v":597.6},{"f":1197.3202,"v":602.9},{"f":1197.3209,"v":600.3},{"f":1197.3215,"v":593.6},{"f":1197.3222,"v":591.7},{"f":1197.3229,"v":594.6},{"f":1197.3235,"v":593.0},{"f":1197.3242,"v":596.6},{"f":1197.3249,"v":593.6},{"f":1197.3256,"v":591.7},{"f":1197.3262,"v":596.0},{"f":1197.3269,"v":594.6},{"f":1197.3276,"v":593.6},{"f":1197.3282,"v":595.0},{"f":1197.3291,"v":593.3},
{"f":1197.3479,"v":598.3},{"f":1197.3486,"v":604.3},{"f":1197.3493,"v":612.4},{"f":1197.3499,"v":611.6},{"f":1197.3506,"v":601.0},{"f":1197.3513,"v":591.0},{"f":1197.3519,"v":594.6},{"f":1197.3526,"v":593.3},{"f":1197.3533,"v":595.0},{"f":1197.354,"v":593.0},{"f":1197.3546,"v":595.6},{"f":1197.3553,"v":594.3},{"f":1197.356,"v":591.0},{"f":1197.3566,"v":593.6},{"f":1197.3573,"v":595.6},{"f":1197.358,"v":601.0},{"f":1197.3586,"v":610.9},{"f":1197.3593,"v":613.2},{"f":1197.36,"v":607.6},{"f":1197.3606,"v":597.6},{"f":1197.3613,"v":592.3},{"f":1197.362,"v":593.6},{"f":1197.3626,"v":596.3},{"f":1197.3633,"v":591.0},{"f":1197.364,"v":595.0},{"f":1197.3647,"v":591.7},{"f":1197.3653,"v":593.6},{"f":1197.366,"v":597.0},{"f":1197.3667,"v":599.6},{"f":1197.3673,"v":602.9},{"f":1197.368,"v":601.0},{"f":1197.3687,"v":595.0},{"f":1197.3693,"v":598.3},{"f":1197.37,"v":601.0},{"f":1197.3707,"v":598.9},{"f":1197.3713,"v":602.9},{"f":1197.372,"v":605.3},{"f":1197.3727,"v":601.0},{"f":1197.3733,"v":595.0},{"f":1197.374,"v":593.6},{"f":1197.3747,"v":596.3},{"f":1197.3753,"v":594.6},{"f":1197.376,"v":596.6},{"f":1197.3767,"v":593.0},{"f":1197.3774,"v":595.0},{"f":1197.378,"v":594.0},{"f":1197.3787,"v":593.6},{"f":1197.3794,"v":594.6},{"f":1197.38,"v":592.6},{"f":1197.3807,"v":593.6},{"f":1197.3814,"v":591.0},{"f":1197.382,"v":594.0},{"f":1197.3827,"v":595.0},{"f":1197.3834,"v":595.6},{"f":1197.384,"v":593.6},{"f":1197.3847,"v":597.0},{"f":1197.3854,"v":598.3},{"f":1197.386,"v":599.3},{"f":1197.3867,"v":595.0},{"f":1197.3874,"v":597.0},{"f":1197.3881,"v":596.0},{"f":1197.3887,"v":597.6},{"f":1197.3894,"v":599.6},{"f":1197.3901,"v":600.6},{"f":1197.3907,"v":596.3},{"f":1197.3914,"v":600.3},{"f":1197.3921,"v":602.6},{"f":1197.3927,"v":601.0},{"f":1197.3934,"v":596.3},{"f":1197.3941,"v":610.9},{"f":1197.3947,"v":627.0},{"f":1197.3954,"v":617.6},{"f":1197.3961,"v":597.6},{"f":1197.3967,"v":592.3},{"f":1197.3974,"v":595.0},{"f":1197.3981,"v":597.6},{"f":1197.3987,"v":594.3},{"f":1197.3994,"v":596.3},{"f":1197.4001,"v":593.0},{"f":1197.4008,"v":594.6},{"f":1197.4014,"v":592.3},{"f":1197.4021,"v":595.0},{"f":1197.4028,"v":593.6},{"f":1197.4034,"v":598.0},{"f":1197.4041,"v":600.0},{"f":1197.4048,"v":600.6},{"f":1197.4054,"v":597.0},{"f":1197.4061,"v":594.6},{"f":1197.4068,"v":596.3},{"f":1197.4074,"v":593.6},{"f":1197.4081,"v":597.6},{"f":1197.4088,"v":595.6},{"f":1197.4094,"v":596.3},{"f":1197.4101,"v":594.3},{"f":1197.4108,"v":597.0},{"f":1197.4114,"v":595.6},{"f":1197.4121,"v":594.6},{"f":1197.4128,"v":598.3},{"f":1197.4135,"v":595.0},{"f":1197.4141,"v":597.0},{"f":1197.4148,"v":593.6},{"f":1197.4155,"v":596.0},{"f":1197.4161,"v":597.6},{"f":1197.4168,"v":595.0},{"f":1197.4175,"v":596.3},{"f":1197.4181,"v":593.0},{"f":1197.4188,"v":597.3},{"f":1197.4195,"v":594.3},{"f":1197.4201,"v":596.3},{"f":1197.4208,"v":598.3},{"f":1197.4215,"v":595.3},{"f":1197.4221,"v":597.6},{"f":1197.4228,"v":599.6},{"f":1197.4235,"v":596.3},{"f":1197.4241,"v":594.3},{"f":1197.4248,"v":595.6},{"f":1197.4255,"v":592.0},{"f":1197.4262,"v":596.3},{"f":1197.4268,"v":598.3},{"f":1197.4275,"v":599.3},{"f":1197.4282,"v":595.3},{"f":1197.4288,"v":597.6},{"f":1197.4295,"v":596.3},{"f":1197.4302,"v":595.0},{"f":1197.4308,"v":597.3},{"f":1197.4315,"v":598.3},{"f":1197.4322,"v":596.6},{"f":1197.4328,"v":600.6},{"f":1197.4335,"v":595.6},{"f":1197.4342,"v":597.6},{"f":1197.4348,"v":595.0},{"f":1197.4355,"v":597.3},{"f":1197.4362,"v":594.3},{"f":1197.4368,"v":597.0},{"f":1197.4375,"v":595.6},{"f":1197.4382,"v":598.0},{"f":1197.4388,"v":596.3},{"f":1197.4395,"v":598.9},{"f":1197.4402,"v":597.6},{"f":1197.4409,"v":596.0},{"f":1197.4415,"v":598.6},{"f":1197.4422,"v":597.0},{"f":1197.4429,"v":597.6},{"f":1197.4435,"v":599.6},{"f":1197.4442,"v":600.6},{"f":1197.4449,"v":598.0},{"f":1197.4455,"v":598.9},{"f":1197.4462,"v":597.6},{"f":1197.4469,"v":600.3},{"f":1197.4475,"v":596.3},{"f":1197.4482,"v":598.3},{"f":1197.4489,"v":599.6},{"f":1197.4495,"v":602.3},{"f":1197.4502,"v":604.6},{"f":1197.4509,"v":604.9},{"f":1197.4515,"v":601.0},{"f":1197.4522,"v":599.6},{"f":1197.4529,"v":600.6},{"f":1197.4535,"v":599.6},{"f":1197.4542,"v":600.6},{"f":1197.4549,"v":598.9},{"f":1197.4555,"v":597.6},{"f":1197.4562,"v":594.0},{"f":1197.4567,"v":598.3},{"f":1197.4571,"v":598.0}
]
},
"concat": [
  {"width": 501, "height": 278, "layer": [
   {"data": {"name": "r1"}, "mark": {"type": "line", "color": "#f20000", "strokeWidth": 1.7},
    "encoding": {
     "x": {"field": "f", "type": "quantitative", "title": "Frequency (cm⁻¹)", "scale": {"domain": [1196.149, 1196.40], "nice": false, "zero": false}, "axis": {"values": [1196.15, 1196.2, 1196.25, 1196.3, 1196.35, 1196.4], "format": ".2f"}},
     "y": {"field": "v", "type": "quantitative", "title": "Loss per pass (ppm)", "scale": {"domain": [584.6, 640], "nice": false, "zero": false}, "axis": {"values": [590, 600, 610, 620, 630, 640]}}}},
   {"data": {"values": [{"f": 1196.287, "v": 622.5, "t": "R(1)"}]}, "mark": {"type": "text", "fontSize": 24, "color": "#111", "font": "Liberation Sans"},
    "encoding": {"x": {"field": "f", "type": "quantitative"}, "y": {"field": "v", "type": "quantitative"}, "text": {"field": "t"}}}
  ]},
  {"width": 501, "height": 278, "layer": [
   {"data": {"name": "r2"}, "mark": {"type": "line", "color": "#f20000", "strokeWidth": 1.7},
    "encoding": {
     "x": {"field": "f", "type": "quantitative", "title": "Frequency (cm⁻¹)", "scale": {"domain": [1196.5085, 1196.76], "nice": false, "zero": false}, "axis": {"values": [1196.55, 1196.6, 1196.65, 1196.7, 1196.75], "format": ".2f"}},
     "y": {"field": "v", "type": "quantitative", "title": "Loss per pass (ppm)", "scale": {"domain": [584.6, 640], "nice": false, "zero": false}, "axis": {"values": [590, 600, 610, 620, 630, 640]}}}},
   {"data": {"values": [{"f": 1196.636, "v": 629.9, "t": "R(2)"}]}, "mark": {"type": "text", "fontSize": 24, "color": "#111", "font": "Liberation Sans"},
    "encoding": {"x": {"field": "f", "type": "quantitative"}, "y": {"field": "v", "type": "quantitative"}, "text": {"field": "t"}}}
  ]},
  {"width": 501, "height": 278, "layer": [
   {"data": {"name": "r3"}, "mark": {"type": "line", "color": "#f20000", "strokeWidth": 1.7},
    "encoding": {
     "x": {"field": "f", "type": "quantitative", "title": "Frequency (cm⁻¹)", "scale": {"domain": [1196.868, 1197.12], "nice": false, "zero": false}, "axis": {"values": [1196.9, 1196.95, 1197.0, 1197.05, 1197.1], "format": ".2f"}},
     "y": {"field": "v", "type": "quantitative", "title": "Loss per pass (ppm)", "scale": {"domain": [584.6, 640], "nice": false, "zero": false}, "axis": {"values": [590, 600, 610, 620, 630, 640]}},
     "detail": {"field": "s", "type": "nominal"}}},
   {"data": {"values": [{"f": 1197.006, "v": 632.1, "t": "R(3)"}]}, "mark": {"type": "text", "fontSize": 24, "color": "#111", "font": "Liberation Sans"},
    "encoding": {"x": {"field": "f", "type": "quantitative"}, "y": {"field": "v", "type": "quantitative"}, "text": {"field": "t"}}}
  ]},
  {"width": 501, "height": 278, "layer": [
   {"data": {"name": "r4"}, "mark": {"type": "line", "color": "#f20000", "strokeWidth": 1.7},
    "encoding": {
     "x": {"field": "f", "type": "quantitative", "title": "Frequency (cm⁻¹)", "scale": {"domain": [1197.2286, 1197.48], "nice": false, "zero": false}, "axis": {"values": [1197.25, 1197.3, 1197.35, 1197.4, 1197.45], "format": ".2f"}},
     "y": {"field": "v", "type": "quantitative", "title": "Loss per pass (ppm)", "scale": {"domain": [584.6, 640], "nice": false, "zero": false}, "axis": {"values": [590, 600, 610, 620, 630, 640]}}}},
   {"data": {"values": [{"f": 1197.3556, "v": 632.1, "t": "R(4)"}]}, "mark": {"type": "text", "fontSize": 24, "color": "#111", "font": "Liberation Sans"},
    "encoding": {"x": {"field": "f", "type": "quantitative"}, "y": {"field": "v", "type": "quantitative"}, "text": {"field": "t"}}}
  ]}
]
}
